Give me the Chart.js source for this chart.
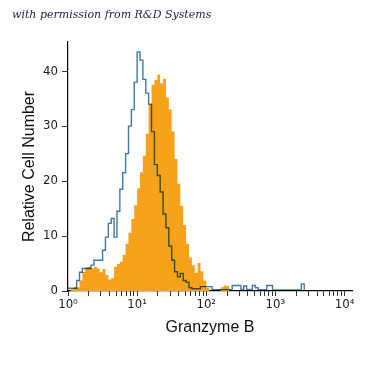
<!DOCTYPE html>
<html>
<head>
<meta charset="utf-8">
<script src="https://cdn.jsdelivr.net/npm/chart.js@4/dist/chart.umd.min.js"></script>
<style>
  html, body { margin: 0; padding: 0; background: #fff; }
  #wrap { position: relative; width: 375px; height: 375px; }
  #note { position: absolute; left: 12px; top: 8px; font: italic 11px "DejaVu Serif", serif; color: #1d1d4a; white-space: nowrap; }
  canvas { position: absolute; left: 0; top: 0; }
</style>
</head>
<body>
<div id="wrap">
  <canvas id="c" width="375" height="375"></canvas>
  <div id="note">with permission from R&amp;D Systems</div>
</div>
<script>
// Histogram channels: 24 channels per decade, starting at 10^0
const binsPerDecade = 24;

// Orange (Granzyme B stained) counts per channel
const stainedCounts = [
  0, 0, 0.4, 0.7, 0.7, 1.9, 3.5, 4.3, 4.4, 4.1,
  4.4, 4.1, 3.4, 4.0, 2.9, 2.1, 2.3, 4.4, 4.9, 5.3,
  6.6, 8.6, 10.6, 13.1, 15.6, 18.7, 21.6, 24.6, 28.6, 34.0,
  37.5, 38.4, 39.4, 37.8, 38.6, 35.2, 33.0, 29.0, 24.0, 19.5,
  15.5, 12.0, 8.6, 6.1, 4.7, 3.3, 5.1, 3.6, 1.9, 0.6,
  0, 0, 0, 0, 0.7, 1.0, 0.9, 0, 0, 0,
  0, 0, 0, 0, 0, 0, 0, 0, 0, 0,
  0, 0, 0, 0, 0, 0, 0, 0, 0, 0,
  0, 0, 0, 0
];

// Blue (isotype control) counts per channel
const controlCounts = [
  0.5, 0.5, 0.5, 0.5, 1.9, 3.4, 4.1, 4.1, 4.1, 4.7,
  5.6, 5.6, 5.6, 7.4, 9.8, 12.3, 13.2, 9.8, 14.5, 18.5,
  21.5, 25.0, 30.0, 33.0, 38.0, 43.5, 42.0, 38.5, 36.0, 34.0,
  29.0, 23.0, 21.0, 18.0, 14.0, 11.5, 8.2, 5.6, 3.5, 2.6,
  3.2, 1.9, 1.6, 0.6, 0.4, 0.4, 0.4, 0.8, 0.8, 0.8,
  0.8, 0.25, 0.25, 0.25, 0.25, 0.25, 0.25, 0.25, 1.0, 1.0,
  1.0, 0.3, 0.9, 0.3, 0.3, 1.0, 0.6, 0.25, 0.25, 0.25,
  1.0, 1.0, 0.2, 0.2, 0.2, 0.2, 0.2, 0.2, 0.2, 0.2,
  0.2, 0.2, 1.3, 0
];

const xTickLabels = ['10\u2070', '10\u00B9', '10\u00B2', '10\u00B3', '10\u2074'];
const yTicks = [0, 10, 20, 30, 40];

function toPoints(counts) {
  return counts.map((v, i) => ({ x: Math.pow(10, i / binsPerDecade), y: v }));
}

const xTickValues = [];
for (let d = 0; d < 4; d++) {
  for (let m = 1; m <= 9; m++) xTickValues.push(m * Math.pow(10, d));
}
xTickValues.push(10000);

const multiplyPlugin = {
  id: 'multiplyLine',
  beforeDatasetDraw(chart, args) {
    if (args.index === 0) { chart.ctx.save(); chart.ctx.globalCompositeOperation = 'multiply'; }
  },
  afterDatasetDraw(chart, args) {
    if (args.index === 0) chart.ctx.restore();
  }
};

const tickFont = { family: '"Liberation Sans Narrow", "DejaVu Sans Condensed", "Liberation Sans", sans-serif', size: 13 };
const titleFont = { family: '"Liberation Sans", Arial, sans-serif', size: 16 };

new Chart(document.getElementById('c'), {
  type: 'line',
  data: {
    datasets: [
      {
        label: 'Isotype control',
        data: toPoints(controlCounts),
        stepped: 'after',
        borderColor: '#3f78a6',
        borderWidth: 1.4,
        pointRadius: 0,
        fill: false
      },
      {
        label: 'Granzyme B',
        data: toPoints(stainedCounts),
        stepped: 'after',
        borderWidth: 0,
        borderColor: 'rgba(0,0,0,0)',
        backgroundColor: '#f8a11b',
        pointRadius: 0,
        fill: 'origin'
      }
    ]
  },
  options: {
    responsive: false,
    animation: false,
    devicePixelRatio: 1,
    layout: { padding: { left: 0, right: 23, top: 42, bottom: 0 } },
    plugins: { legend: { display: false }, tooltip: { enabled: false } },
    scales: {
      x: {
        type: 'logarithmic',
        min: 1,
        max: Math.pow(10, 4.108),
        afterBuildTicks(scale) { scale.ticks = xTickValues.map(v => ({ value: v })); },
        afterFit(scale) { scale.height = 84; },
        ticks: {
          autoSkip: false,
          maxRotation: 0,
          padding: 1,
          color: '#1a1a1a',
          font: tickFont,
          callback(value) {
            const e = Math.log10(value);
            if (Math.abs(e - Math.round(e)) < 1e-9) return xTickLabels[Math.round(e)];
            return '';
          }
        },
        grid: { drawOnChartArea: false, tickLength: 5, color: '#333', lineWidth: 1 },
        border: { color: '#000', width: 1.2 },
        title: { display: true, text: 'Granzyme B', color: '#111', font: titleFont, padding: { top: 0, bottom: 38 } }
      },
      y: {
        min: 0,
        max: 45.3,
        afterBuildTicks(scale) { scale.ticks = yTicks.map(v => ({ value: v })); },
        afterFit(scale) { scale.width = 68; },
        ticks: { padding: 4, color: '#1a1a1a', font: tickFont },
        grid: { drawOnChartArea: false, tickLength: 6, color: '#333', lineWidth: 1 },
        border: { color: '#000', width: 1.2 },
        title: { display: true, text: 'Relative Cell Number', color: '#111', font: titleFont, padding: { top: 20, bottom: 0 } }
      }
    }
  },
  plugins: [multiplyPlugin]
});
</script>
</body>
</html>
